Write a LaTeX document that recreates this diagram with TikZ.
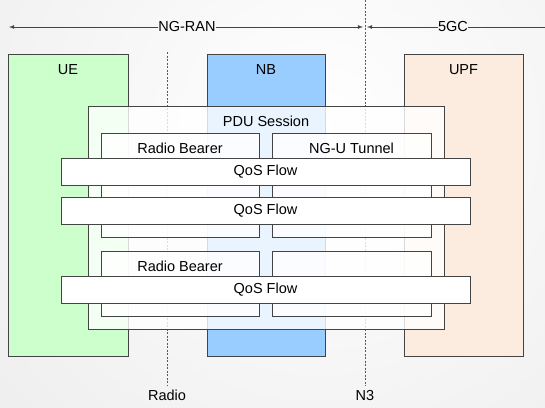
\documentclass[tikz,border=0pt]{standalone}
\usepackage{fontspec}
\setmainfont{Liberation Sans}
\usetikzlibrary{shapes,arrows,positioning,calc}

\definecolor{uegreen}{RGB}{204,255,204}
\definecolor{nbblue}{RGB}{153,204,255}
\definecolor{upfpeach}{RGB}{252,236,224}
\definecolor{edge}{RGB}{68,68,68}

\begin{document}
\begin{tikzpicture}[x=1pt, y=-1pt, >=latex,
    every node/.style={font=\fontsize{14.5}{17}\selectfont},
    entity/.style={rectangle, draw=edge, line width=0.8pt, inner sep=0pt, minimum width=#1, minimum height=302pt},
    session/.style={rectangle, draw=edge, line width=0.8pt, inner sep=0pt, fill=white, fill opacity=0.8, minimum width=#1},
    flow/.style={rectangle, draw=edge, line width=0.8pt, fill=white, minimum width=409pt, minimum height=27pt},
    titled/.style={label={[anchor=center, yshift=-16pt, fill opacity=1, text opacity=1]north:#1}},
    border/.style={draw=edge, line width=0.8pt},
    cut/.style={draw=gray!70!black, dash pattern=on 2pt off 1.5pt, line width=0.6pt}]

    % background
    \useasboundingbox (0,0) rectangle (545,407);
    \begin{scope}
        \clip (0,0) rectangle (545,407);
        \shade[inner color=white, outer color=gray!14] (320,130) circle (460);
    \end{scope}

    % domains on top
    \coordinate (ranend) at (9,27);
    \coordinate (cnend) at (545,27);
    \coordinate (n3top) at (365,0);
    \coordinate (n3mid) at (365,27);
    \coordinate (radiotop) at (167,52);
    \node[inner sep=0pt] (ngran) at (187,27) {NG-RAN};
    \node[inner sep=0pt] (fivegc) at (453,27) {5GC};
    \draw[border, ->] (ngran) -- (ranend);
    \draw[border, ->, shorten >=2pt] (ngran) -- (n3mid);
    \draw[border, ->, shorten >=2pt] (fivegc) -- (n3mid);
    \draw[border] (fivegc) -- (cnend);

    % interfaces
    \node (radio) at (167,395) {Radio};
    \node (n3) at (365,395) {N3};
    \draw[cut] (radiotop) -- (radio);
    \draw[cut] (n3top) -- (n3);

    % network elements
    \node[entity=120pt, fill=uegreen, titled=UE] (ue) at (68,205) {};
    \node[entity=118pt, fill=nbblue, titled=NB] (nb) at (266,205) {};
    \node[entity=119pt, fill=upfpeach, titled=UPF] (upf) at (463.5,205) {};

    % session, bearers and tunnels
    \node[session=356pt, minimum height=223pt, titled=PDU Session] (pdu) at (266,217.5) {};
    \node[session=158pt, minimum height=104pt, titled=Radio Bearer] (bearer1) at (180,185) {};
    \node[session=159pt, minimum height=104pt, titled=NG-U Tunnel] (tunnel1) at (351.5,185) {};
    \node[session=158pt, minimum height=65pt, titled=Radio Bearer] (bearer2) at (180,283.5) {};
    \node[session=159pt, minimum height=65pt] (tunnel2) at (351.5,283.5) {};

    % flows
    \node[flow] (qos1) at (265.5,171.5) {QoS Flow};
    \node[flow] (qos2) at (265.5,211) {QoS Flow};
    \node[flow] (qos3) at (265.5,290) {QoS Flow};
\end{tikzpicture}
\end{document}
